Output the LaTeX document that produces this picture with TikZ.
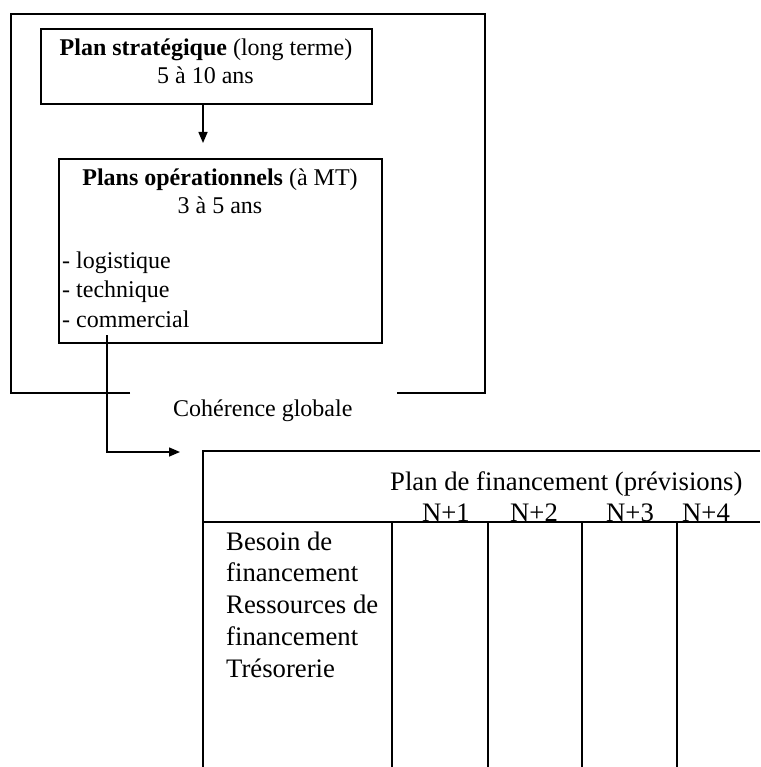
\documentclass[tikz,border=0pt]{standalone}
\usepackage{fontspec}
\setmainfont{Liberation Serif}
\usetikzlibrary{arrows.meta}
\begin{document}
\begin{tikzpicture}[x=1pt,y=-1pt,
  frame/.style={draw, line width=1.5pt, inner sep=0pt, outer sep=0pt},
  txt/.style={inner sep=0pt, anchor=base, font=\fontsize{24}{28}\selectfont},
  txtl/.style={inner sep=0pt, anchor=base west, font=\fontsize{24}{28}\selectfont},
  tabl/.style={inner sep=0pt, anchor=base west, font=\fontsize{26.7}{32}\selectfont},
  tabc/.style={inner sep=0pt, anchor=base, font=\fontsize{26.7}{32}\selectfont},
  rule/.style={line width=1.5pt, line join=miter},
  arr/.style={line width=1.5pt, -{Triangle[length=11pt,width=9pt]}}]
\useasboundingbox (0,0) rectangle (760,767);

% outer frame with gap
\draw[rule] (130,393) -| (11,14) -| (485,393) -- (397,393);

% boxes
\node[frame, minimum width=331pt, minimum height=75pt] (strat) at (206.5,66.5) {};
\node[frame, minimum width=323pt, minimum height=184pt] (ops) at (220.5,251) {};

% texts in boxes
\node[txt] (t1) at (206,56) {\textbf{Plan stratégique} (long terme)};
\node[txt] (t2) at (205.5,84) {5 à 10 ans};
\node[txt] (t3) at (220,186) {\textbf{Plans opérationnels} (à MT)};
\node[txt] (t4) at (220,214) {3 à 5 ans};
\node[txtl] (t5) at (62,268) {- logistique};
\node[txtl] (t6) at (62,297) {- technique};
\node[txtl] (t7) at (62,327) {- commercial};

\node[txtl] (coh) at (173,416) {Cohérence globale};

% connectors
\coordinate (a1) at (203,143);
\draw[arr] (strat.south -| a1) -- (a1);
\coordinate (c0) at (107,335);
\coordinate (c1) at (180,452);
\draw[arr] (c0) |- (c1);

% table
\draw[rule] (760,451) -- (203,451) -- (203,767);
\draw[rule] (203,522) -- (760,522);
\foreach \xx in {392,488,582,677} \draw[rule] (\xx,522) -- (\xx,767);

\node[tabl] (plan) at (390,490) {Plan de financement (prévisions)};
\node[tabc] (n1) at (446,521) {N+1};
\node[tabc] (n2) at (534,521) {N+2};
\node[tabc] (n3) at (630,521) {N+3};
\node[tabc] (n4) at (706,521) {N+4};

\node[tabl] (r1) at (226,550) {Besoin de};
\node[tabl] (r2) at (226,581) {financement};
\node[tabl] (r3) at (226,613) {Ressources de};
\node[tabl] (r4) at (226,645) {financement};
\node[tabl] (r5) at (226,677) {Trésorerie};
\end{tikzpicture}
\end{document}
